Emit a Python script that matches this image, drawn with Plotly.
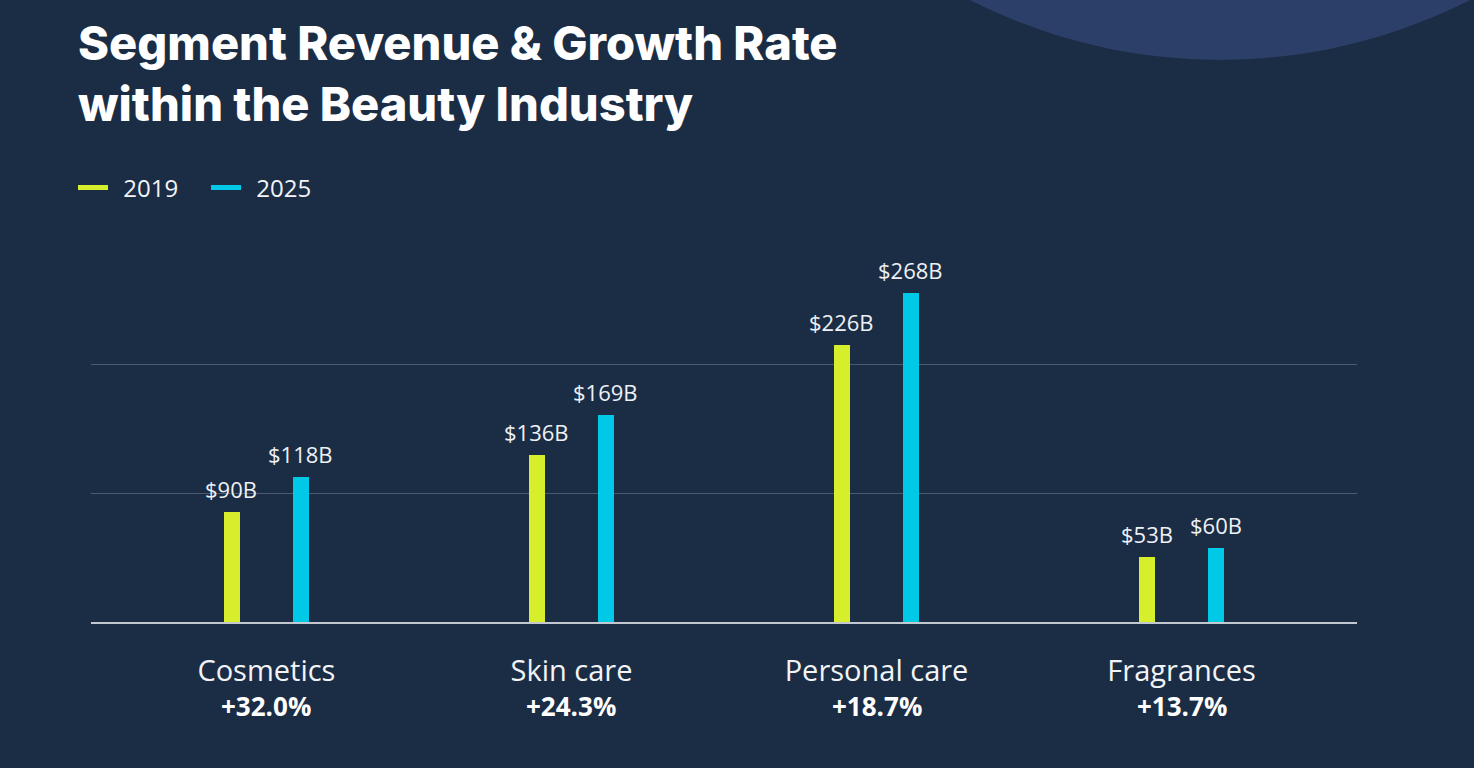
import plotly.graph_objects as go

# data
segments = ["Cosmetics", "Skin care", "Personal care", "Fragrances"]
revenue_2019 = [90, 136, 226, 53]
revenue_2025 = [118, 169, 268, 60]
growth_labels = ["+32.0%", "+24.3%", "+18.7%", "+13.7%"]

BG = "#1b2d45"
LIME = "#d7ee2c"
CYAN = "#00c9e8"

W, H = 1474, 768
M_L, M_R, M_T, M_B = 91, 117, 254, 146
plot_w = W - M_L - M_R
plot_h = H - M_T - M_B


def px_x(p):
    # page pixel -> paper x
    return (p - M_L) / plot_w


def px_y(p):
    # page pixel -> paper y
    return (H - M_B - p) / plot_h


fig = go.Figure()

series = [
    ("2019", revenue_2019, LIME, -0.138, -35),
    ("2025", revenue_2025, CYAN, 0.088, 34),
]

for name, vals, col, off, shift in series:
    fig.add_trace(go.Bar(
        x=list(range(len(segments))), y=vals,
        width=0.05, offset=off,
        marker=dict(color=col, line=dict(width=0)),
        showlegend=False, hoverinfo="skip",
    ))
    # value labels above the bars
    for i, v in enumerate(vals):
        fig.add_annotation(
            x=i, y=v, xref="x", yref="y", xshift=shift, yshift=6,
            yanchor="bottom", showarrow=False, text="$%dB" % v,
            font=dict(family="Open Sans", size=22, color="#eef1f5"),
        )

# legend entries drawn as short lines
for name, vals, col, off, shift in series:
    fig.add_trace(go.Scatter(
        x=[None], y=[None], mode="lines", name="\u00a0\u2009" + name,
        line=dict(color=col, width=5),
    ))

# growth rates under the category labels
for i, g in enumerate(growth_labels):
    fig.add_annotation(
        x=i, y=px_y(706), xref="x", yref="paper",
        text="<b>%s</b>" % g, showarrow=False, yanchor="middle",
        font=dict(family="Open Sans", size=26, color="#ffffff"),
    )

# title
fig.add_annotation(
    x=px_x(76), y=px_y(12), xref="paper", yref="paper",
    xanchor="left", yanchor="top", align="left", showarrow=False,
    text="Segment Revenue & Growth Rate<br>within the Beauty Industry",
    font=dict(family="Inter", size=47, color="#ffffff", weight=800),
)

# decorative circle in the top right corner
fig.add_shape(
    type="circle", xref="paper", yref="paper", layer="below",
    x0=px_x(669), x1=px_x(1771), y0=px_y(60), y1=px_y(-1042),
    fillcolor="#2c3f68", line=dict(width=0),
)

fig.update_layout(
    width=W, height=H,
    paper_bgcolor=BG, plot_bgcolor=BG,
    margin=dict(l=M_L, r=M_R, t=M_T, b=M_B),
    bargap=0,
    legend=dict(
        orientation="h", x=73 / W, xanchor="left", xref="container",
        y=1 - 188 / H, yanchor="middle", yref="container",
        font=dict(family="Open Sans", size=24, color="#f2f4f7"),
        bgcolor="rgba(0,0,0,0)", itemwidth=30,
        entrywidthmode="pixels", entrywidth=88,
    ),
    xaxis=dict(
        range=[-0.575, 3.575], tickmode="array",
        tickvals=list(range(len(segments))), ticktext=segments,
        tickfont=dict(family="Open Sans", size=29, color="#f2f4f7"),
        showgrid=False, zeroline=False, showline=True,
        linecolor="#c3c7cf", linewidth=2, ticks="", ticklabelstandoff=22,
    ),
    yaxis=dict(
        range=[0, 300], tickvals=[105, 210], showticklabels=False,
        showgrid=True, gridcolor="#4b5a70", gridwidth=1,
        zeroline=False, showline=False, fixedrange=True,
    ),
)

fig.write_html(
    "out.html",
    config={"displayModeBar": False},
    post_script="document.body.style.margin='0';"
                "document.body.style.background='%s';" % BG,
)
